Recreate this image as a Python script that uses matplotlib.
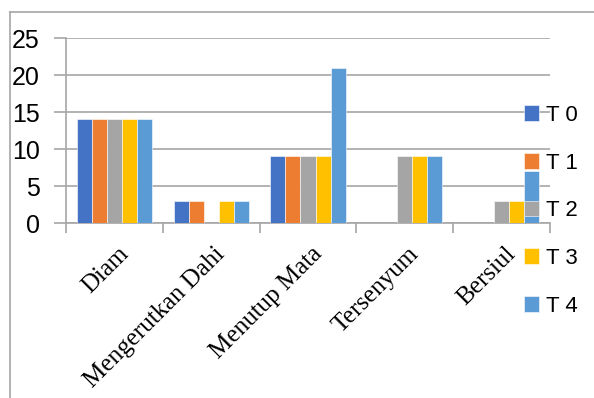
import matplotlib.pyplot as plt
import matplotlib.lines as mlines
import matplotlib.transforms as mtransforms
import numpy as np

categories = ["Diam", "Mengerutkan Dahi", "Menutup Mata", "Tersenyum", "Bersiul"]
series_names = ["T 0", "T 1", "T 2", "T 3", "T 4"]
t0 = [14, 3, 9, 0, 0]
t1 = [14, 3, 9, 0, 0]
t2 = [14, 0, 9, 9, 3]
t3 = [14, 3, 9, 9, 3]
t4 = [14, 3, 21, 9, 7]
colors = ["#4472C4", "#ED7D31", "#A5A5A5", "#FFC000", "#5B9BD5"]
yticks = [0, 5, 10, 15, 20, 25]

def main():
    fig = plt.figure(figsize=(5.94, 3.98), dpi=100)
    ax = fig.add_axes([66 / 594, 1 - 223 / 398, 484 / 594, 185 / 398])

    grid_c = "#A6A6A6"
    # chart area border (only top and left visible in the crop)
    fig.add_artist(mlines.Line2D([10 / 594, 1], [1 - 12 / 398, 1 - 12 / 398], color=grid_c, lw=1.2))
    fig.add_artist(mlines.Line2D([10 / 594, 10 / 594], [0, 1 - 12 / 398], color=grid_c, lw=1.2))

    data = [t0, t1, t2, t3, t4]
    x = np.arange(len(categories))
    w = 0.155
    for i, vals in enumerate(data):
        ax.bar(x + (i - 2) * w, vals, w, color=colors[i], edgecolor="white", linewidth=0.4,
               label=series_names[i], zorder=3)

    ax.set_xlim(-0.5, 4.5)
    ax.set_ylim(0, 25)
    ax.set_yticks(yticks)
    ax.set_yticklabels([str(v) for v in yticks], fontsize=18, family="Liberation Sans")
    ax.yaxis.grid(True, color=grid_c, lw=1.2, zorder=0)
    ax.tick_params(axis="y", length=9, width=1.2, color=grid_c, pad=10)

    # ticks between categories, labels drawn separately
    ax.set_xticks(np.arange(-0.5, 5, 1))
    ax.set_xticklabels([])
    ax.tick_params(axis="x", length=7, width=1.2, color=grid_c)
    off = mtransforms.ScaledTranslation(3 / 100, -20 / 100, fig.dpi_scale_trans)
    for xi, name in zip(x, categories):
        ax.text(xi, 0, name, transform=ax.get_xaxis_transform() + off, rotation=45,
                rotation_mode="anchor", ha="right", va="top", fontsize=18,
                family="Liberation Serif")

    for s in ["top", "right"]:
        ax.spines[s].set_visible(False)
    ax.spines["left"].set_color(grid_c)
    ax.spines["bottom"].set_color(grid_c)
    ax.spines["left"].set_linewidth(1.2)
    ax.spines["bottom"].set_linewidth(1.2)

    fig.legend(loc="upper left", bbox_to_anchor=(515 / 594, 1 - 96 / 398), frameon=False,
               prop={"family": "Liberation Sans", "size": 16}, handlelength=0.7,
               handleheight=0.7, handletextpad=0.3, labelspacing=1.2, borderaxespad=0)

    fig.savefig("out.png", dpi=100)

main()
